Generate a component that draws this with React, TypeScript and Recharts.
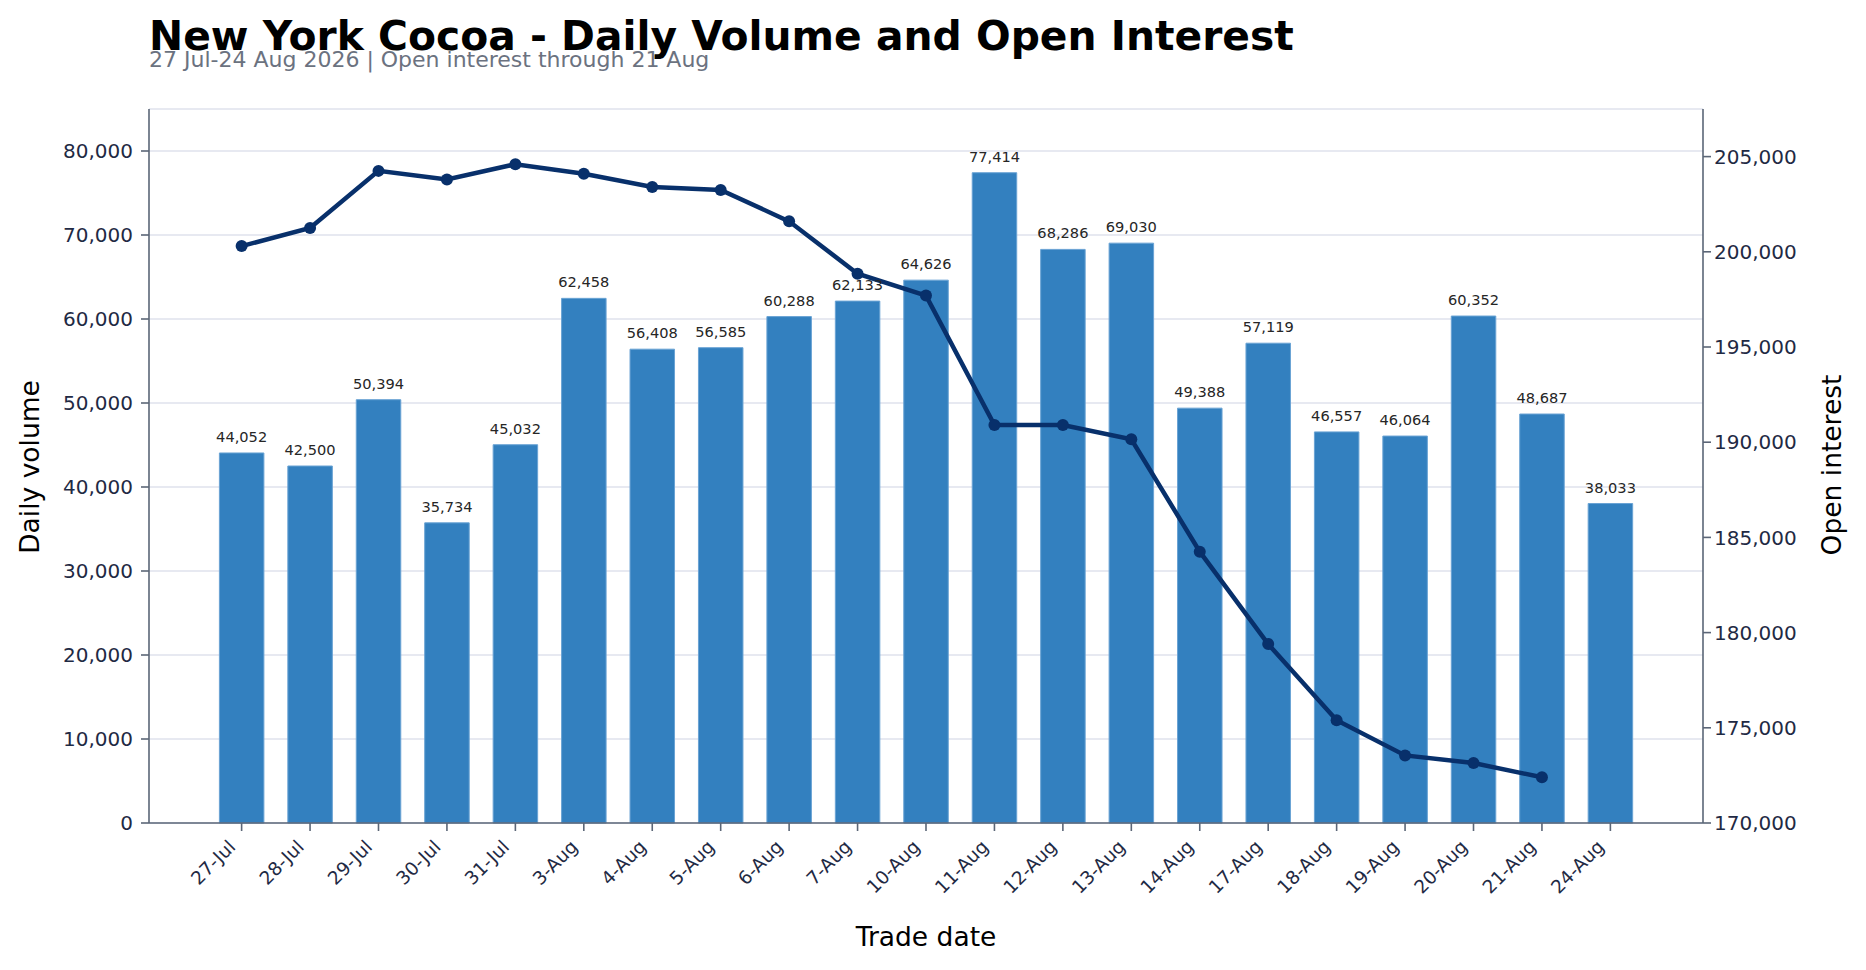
import { Bar, CartesianGrid, ComposedChart, LabelList, Line, XAxis, YAxis } from "recharts";

const DATES = [
  "27-Jul", "28-Jul", "29-Jul", "30-Jul", "31-Jul", "3-Aug", "4-Aug", "5-Aug", "6-Aug", "7-Aug",
  "10-Aug", "11-Aug", "12-Aug", "13-Aug", "14-Aug", "17-Aug", "18-Aug", "19-Aug", "20-Aug", "21-Aug", "24-Aug",
];
const VOLUME = [
  44052, 42500, 50394, 35734, 45032, 62458, 56408, 56585, 60288, 62133,
  64626, 77414, 68286, 69030, 49388, 57119, 46557, 46064, 60352, 48687, 38033,
];
// open interest only published through 21 Aug
const OPEN_INTEREST = [
  200300, 201250, 204250, 203800, 204600, 204100, 203400, 203250, 201600, 198850,
  197700, 190900, 190900, 190150, 184250, 179400, 175400, 173550, 173150, 172400, null,
];
const VOLUME_TICKS = [0, 10000, 20000, 30000, 40000, 50000, 60000, 70000, 80000];
const OI_TICKS = [170000, 175000, 180000, 185000, 190000, 195000, 200000, 205000];

const data = DATES.map((date, i) => ({ date, volume: VOLUME[i], oi: OPEN_INTEREST[i] }));

const FONT = "'DejaVu Sans', sans-serif";
const SPINE = "#5b6677";
const TICK_TEXT = "#1f2a44";
const fmt = (v: number) => v.toLocaleString("en-US");

function DateTick(props: any) {
  const { x, y, payload } = props;
  const tx = x - 5;
  const ty = y + 15;
  return (
    <text x={tx} y={ty} transform={`rotate(-45, ${tx}, ${ty})`} textAnchor="end" fontSize={18.5} fill={TICK_TEXT} fontFamily={FONT}>
      {payload.value}
    </text>
  );
}

function BarValue(props: any) {
  const { x, y, width, value } = props;
  return (
    <text x={x + width / 2} y={y - 11} textAnchor="middle" fontSize={14.6} fill="#262626" fontFamily={FONT}>
      {fmt(value)}
    </text>
  );
}

export default function App() {
  return (
    <div style={{ position: "relative", width: 1866, height: 970, fontFamily: FONT, background: "#fff" }}>
      <style>{"body{margin:0}"}</style>
      <ComposedChart width={1866} height={970} data={data} margin={{ top: 109, right: 0, bottom: 0, left: 0 }}>
        <CartesianGrid yAxisId="left" vertical={false} stroke="#dfe2ec" strokeWidth={1.6} />
        <XAxis
          dataKey="date"
          height={147}
          interval={0}
          padding={{ left: 58.4, right: 58.4 }}
          tick={<DateTick />}
          tickSize={8}
          axisLine={{ stroke: SPINE, strokeWidth: 1.6 }}
          tickLine={{ stroke: SPINE, strokeWidth: 1.6 }}
        />
        <XAxis xAxisId="top" orientation="top" dataKey="date" height={0} tick={false} tickLine={false} axisLine={{ stroke: SPINE, strokeWidth: 1.6 }} />
        <YAxis
          yAxisId="left"
          width={149}
          domain={[0, 85000]}
          ticks={VOLUME_TICKS}
          tickFormatter={fmt}
          tickSize={8}
          tickMargin={8}
          tick={{ fontSize: 20, fill: TICK_TEXT, fontFamily: FONT }}
          axisLine={{ stroke: SPINE, strokeWidth: 1.6 }}
          tickLine={{ stroke: SPINE, strokeWidth: 1.6 }}
        />
        <YAxis
          yAxisId="right"
          orientation="right"
          width={163}
          domain={[170000, 207500]}
          ticks={OI_TICKS}
          tickFormatter={fmt}
          tickSize={8}
          tickMargin={3}
          tick={{ fontSize: 20, fill: TICK_TEXT, fontFamily: FONT }}
          axisLine={{ stroke: SPINE, strokeWidth: 1.6 }}
          tickLine={{ stroke: SPINE, strokeWidth: 1.6 }}
        />
        <Bar yAxisId="left" dataKey="volume" barSize={44.5} fill="#3380bf" stroke="#6aa3d4" strokeWidth={1} isAnimationActive={false}>
          <LabelList dataKey="volume" content={<BarValue />} />
        </Bar>
        <Line
          yAxisId="right"
          dataKey="oi"
          stroke="#08306b"
          strokeWidth={4.5}
          dot={{ r: 6, fill: "#08306b", stroke: "none" }}
          activeDot={false}
          isAnimationActive={false}
        />
      </ComposedChart>
      <svg width={1866} height={970} style={{ position: "absolute", left: 0, top: 0, pointerEvents: "none" }} fontFamily={FONT}>
        <text x={149} y={49.5} fontSize={40.8} fontWeight="bold" fill="#000">
          New York Cocoa - Daily Volume and Open Interest
        </text>
        <text x={149} y={66.5} fontSize={22} fill="#6b7280">
          27 Jul-24 Aug 2026 | Open interest through 21 Aug
        </text>
        <text transform="translate(38.5, 467) rotate(-90)" textAnchor="middle" fontSize={26.5} fill="#000">
          Daily volume
        </text>
        <text transform="translate(1841, 465) rotate(-90)" textAnchor="middle" fontSize={26.5} fill="#000">
          Open interest
        </text>
        <text x={926} y={946} textAnchor="middle" fontSize={26.5} fill="#000">
          Trade date
        </text>
      </svg>
    </div>
  );
}
